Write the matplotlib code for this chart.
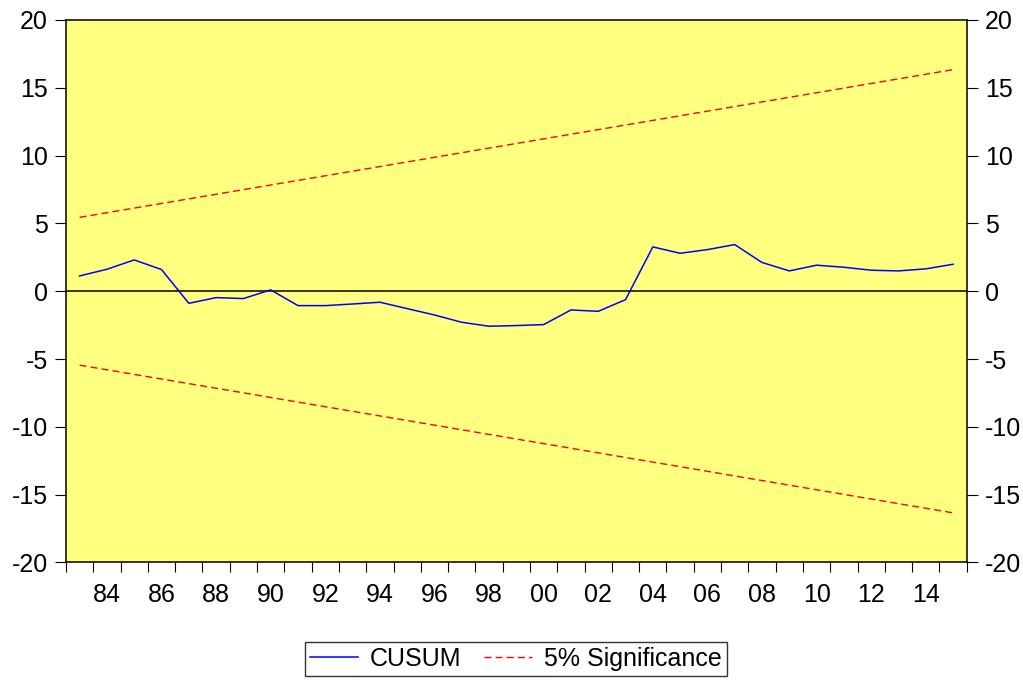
import matplotlib
matplotlib.use("Agg")
import matplotlib.pyplot as plt
from matplotlib.ticker import FixedLocator

plt.rcParams['font.family'] = ['Liberation Sans', 'DejaVu Sans']

years = list(range(1983, 2016))
cusum = [1.13, 1.62, 2.31, 1.60, -0.89, -0.47, -0.54, 0.10, -1.06, -1.06,
         -0.94, -0.81, -1.28, -1.75, -2.29, -2.58, -2.53, -2.46, -1.38, -1.48,
         -0.62, 3.27, 2.80, 3.07, 3.44, 2.12, 1.50, 1.92, 1.77, 1.55,
         1.50, 1.65, 1.99]
band_years = [1983, 2015]
upper = [5.45, 16.34]
lower = [-5.45, -16.34]
xlabels_years = list(range(1984, 2015, 2))
yticks = [-20, -15, -10, -5, 0, 5, 10, 15, 20]

fig = plt.figure(figsize=(10.23, 6.80), dpi=100)
fig.subplots_adjust(left=0.0645, right=0.945, top=0.9706, bottom=0.1728)
ax = fig.add_subplot(111)
ax.set_facecolor('#ffff80')

ax.axhline(0, color='black', lw=1.1, zorder=1)
l1, = ax.plot(years, cusum, color='#0000ff', lw=1.1, label='CUSUM', zorder=3)
l2, = ax.plot(band_years, upper, color='#ff0000', lw=1.0, ls=(0, (5, 3)),
              label='5% Significance', zorder=2)
ax.plot(band_years, lower, color='#ff0000', lw=1.0, ls=(0, (5, 3)), zorder=2)

ax.set_xlim(1982.5, 2015.5)
ax.set_ylim(-20, 20)

# x: tick marks at year boundaries, labels centered on even years
ax.xaxis.set_major_locator(FixedLocator(xlabels_years))
ax.set_xticklabels([f"{y % 100:02d}" for y in xlabels_years])
ax.tick_params(axis='x', which='major', length=0, pad=14.5, labelsize=18)
ax.xaxis.set_minor_locator(FixedLocator([y - 0.5 for y in range(1983, 2017)]))
ax.tick_params(axis='x', which='minor', length=7, width=0.8, direction='out', color='black')

ax.set_yticks(yticks)
ax.set_yticklabels([str(v) for v in yticks])
ax.tick_params(axis='y', which='both', length=8, width=0.8, direction='out',
               left=True, right=True, labelleft=True, labelright=True,
               labelsize=18, pad=5)

for s in ax.spines.values():
    s.set_linewidth(1.1)
    s.set_color('black')

leg = fig.legend(handles=[l1, l2], loc='center', bbox_to_anchor=(0.5045, 0.031),
                 ncol=2, fontsize=18, frameon=True, fancybox=False,
                 edgecolor='black', handlelength=1.9, handletextpad=0.5,
                 columnspacing=0.9, borderpad=0.2)
leg.get_frame().set_linewidth(1.0)

fig.savefig('out.png', dpi=100)
